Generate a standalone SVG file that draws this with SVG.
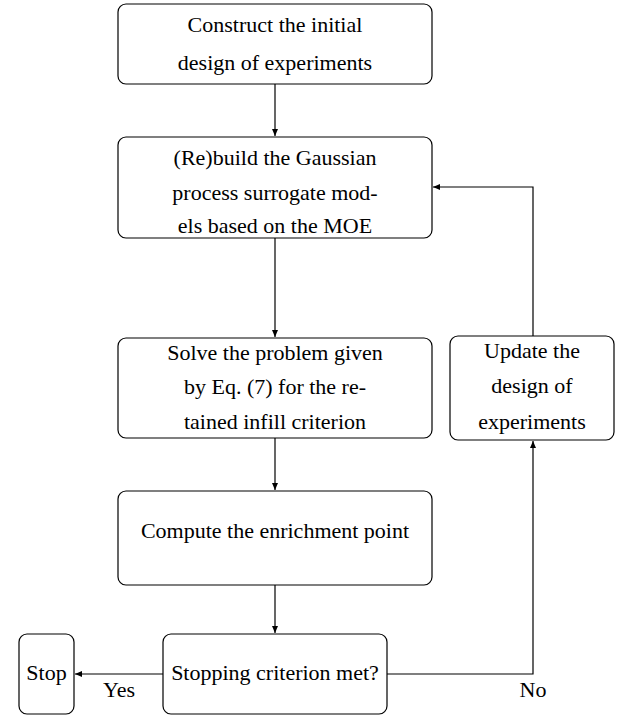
<svg xmlns="http://www.w3.org/2000/svg" width="619" height="715" viewBox="0 0 619 715">
<defs>
<marker id="ah" markerWidth="8" markerHeight="6" refX="7" refY="3" orient="auto" markerUnits="userSpaceOnUse">
<path d="M0,0 L7,3 L0,6 Z" fill="#000"/>
</marker>
<style>
.box{fill:#fff;stroke:#000;stroke-width:1.2}
.t{font-size:22px;fill:#000;text-anchor:middle}
.c{fill:none;stroke:#000;stroke-width:1.2}
</style>
</defs>
<rect width="619" height="715" fill="#fff"/>
<g font-family="'Liberation Serif', 'Times New Roman', 'DejaVu Serif', 'Noto Serif', serif">
<g id="connectors">
<line class="c" x1="275" y1="84" x2="275" y2="136" marker-end="url(#ah)"/>
<line class="c" x1="275" y1="238" x2="275" y2="337" marker-end="url(#ah)"/>
<line class="c" x1="275" y1="438" x2="275" y2="490" marker-end="url(#ah)"/>
<line class="c" x1="275" y1="585" x2="275" y2="633" marker-end="url(#ah)"/>
<line class="c" x1="163" y1="674" x2="75" y2="674" marker-end="url(#ah)"/>
<polyline class="c" points="387,674 533,674 533,441" marker-end="url(#ah)"/>
<polyline class="c" points="533,336 533,187 433,187" marker-end="url(#ah)"/>
<text class="t" x="119" y="697">Yes</text>
<text class="t" x="533" y="697">No</text>
</g>
<g id="n1">
<rect class="box" x="118" y="4" width="314" height="80" rx="8"/>
<text class="t" x="275" y="32">Construct the initial</text>
<text class="t" x="275" y="70">design of experiments</text>
</g>
<g id="n2">
<rect class="box" x="118" y="137" width="314" height="101" rx="8"/>
<text class="t" x="275" y="165">(Re)build the Gaussian</text>
<text class="t" x="275" y="200">process surrogate mod-</text>
<text class="t" x="275" y="233">els based on the MOE</text>
</g>
<g id="n3">
<rect class="box" x="118" y="338" width="314" height="100" rx="8"/>
<text class="t" x="275" y="360">Solve the problem given</text>
<text class="t" x="275" y="394">by Eq. (7) for the re-</text>
<text class="t" x="275" y="429">tained infill criterion</text>
</g>
<g id="n4">
<rect class="box" x="118" y="491" width="314" height="94" rx="8"/>
<text class="t" x="275" y="538">Compute the enrichment point</text>
</g>
<g id="n5">
<rect class="box" x="163" y="634" width="224" height="80" rx="8"/>
<text class="t" x="275" y="680">Stopping criterion met?</text>
</g>
<g id="stop">
<rect class="box" x="19" y="634" width="55" height="80" rx="8"/>
<text class="t" x="46.5" y="680">Stop</text>
</g>
<g id="update">
<rect class="box" x="450" y="336" width="164" height="104" rx="8"/>
<text class="t" x="532" y="358">Update the</text>
<text class="t" x="532" y="393">design of</text>
<text class="t" x="532" y="429">experiments</text>
</g>
</g>
</svg>
